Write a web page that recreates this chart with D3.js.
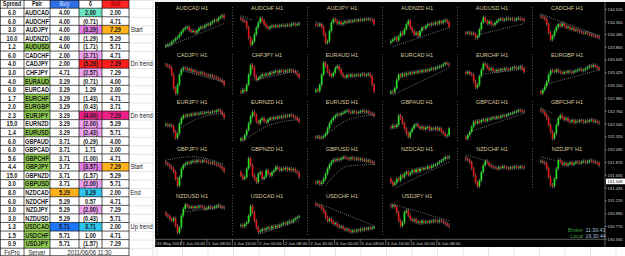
<!DOCTYPE html>
<html>
<head>
<meta charset="utf-8">
<script src="https://cdn.jsdelivr.net/npm/d3@7"></script>
<style>
  body { margin: 0; background: #fff; }
  svg { display: block; font-family: "Liberation Sans", Arial, sans-serif; }
</style>
</head>
<body>
<svg id="chart" width="625" height="256"></svg>
<script>
// ---- table data ----
const pairs = ["AUDCAD","AUDCHF","AUDJPY","AUDNZD","AUDUSD","CADCHF","CADJPY","CHFJPY","EURAUD","EURCAD",
  "EURCHF","EURGBP","EURJPY","EURNZD","EURUSD","GBPAUD","GBPCAD","GBPCHF","GBPJPY","GBPNZD",
  "GBPUSD","NZDCAD","NZDCHF","NZDJPY","NZDUSD","USDCAD","USDCHF","USDJPY"];
const spreads = [6.0,6.0,3.0,10.0,1.2,6.0,4.0,3.0,4.0,6.0,1.7,2.0,2.3,15.0,1.4,6.0,6.0,5.6,4.4,15.0,3.0,8.0,6.0,3.0,3.0,1.3,1.5,0.9];
const buys = [4.00,4.00,4.00,4.00,4.00,2.00,2.00,4.71,3.29,3.29,3.29,3.29,3.29,3.29,3.29,3.71,3.71,3.71,3.71,3.71,3.71,5.29,5.29,5.29,5.29,5.71,5.71,5.71];
const deltas = [2.00,-0.71,-3.29,-1.29,-1.71,-2.71,-5.29,-2.57,-0.71,1.29,-1.43,-0.43,-4.00,-2.00,-2.43,-0.29,1.71,-1.00,-3.57,-1.57,-2.00,3.29,0.57,-2.00,-0.43,3.71,1.00,-1.57];
const sells = [2.00,4.71,7.29,5.29,5.71,4.71,7.29,7.29,4.00,2.00,4.71,3.71,7.29,5.29,5.71,4.00,2.00,4.71,7.29,5.29,5.71,2.00,4.71,7.29,5.71,2.00,4.71,7.29];
const notes = { AUDJPY: "Start", CADJPY: "Dn trend", EURJPY: "Dn trend", GBPJPY: "Start", NZDCAD: "End", USDCAD: "Up trend" };
const headers = ["Spread", "Pair", "Buy", "δ", "Sell"];
const footer = ["FxPro", "Server", "2011/06/06 11:30"];

// ---- mini chart data (closes, 0..100 of each panel) ----
const candleCloses = [
  [5,8,10,12,18,22,28,32,40,48,55,60,62,52,48,50,45,50,58,62,60,66,70,68,74,78,82,80,88,92,96,88],
  [88,85,80,78,60,30,10,20,40,60,75,88,80,70,62,58,62,65,63,66,64,66,67,65,67,68,66,70,72,68,70,72],
  [70,68,66,70,62,40,15,20,50,75,85,80,72,76,70,74,78,76,80,78,80,82,80,84,82,83,85,84,86,84,82,70],
  [15,20,25,30,22,35,45,40,55,70,80,60,50,40,45,35,50,60,58,65,70,68,72,70,75,72,78,74,80,82,76,62],
  [45,44,46,42,44,40,30,35,55,75,90,80,72,78,70,68,74,80,84,86,82,84,88,85,86,84,82,86,88,85,84,80],
  [95,92,90,85,70,45,25,35,50,62,70,65,72,66,60,62,56,58,52,54,50,48,46,44,45,42,40,38,36,34,33,30],
  [90,88,85,80,60,20,5,30,60,75,80,78,74,76,70,72,68,66,64,66,62,60,58,56,58,54,52,50,46,44,40,30],
  [10,8,15,12,30,60,88,80,55,45,50,55,60,58,62,60,66,64,68,70,66,72,70,68,72,70,74,72,70,66,60,52],
  [10,15,12,30,60,95,85,70,60,55,65,80,85,75,62,55,52,58,55,60,56,58,60,57,60,62,58,60,62,55,30,10],
  [5,10,8,20,45,60,55,62,58,64,62,66,64,68,66,70,68,72,70,74,72,76,78,76,80,82,84,86,90,94,92,88],
  [66,64,68,62,60,40,22,30,55,75,92,88,80,74,78,72,70,74,72,76,74,78,76,75,78,80,82,78,80,84,78,68],
  [10,5,15,25,40,60,72,70,68,74,70,66,64,68,66,70,68,66,70,72,74,76,72,74,78,82,86,84,88,84,80,76],
  [50,52,48,50,46,30,12,25,55,70,78,76,80,78,82,80,84,82,84,86,84,86,88,86,88,90,88,92,94,90,82,72],
  [5,10,8,20,35,55,75,88,80,60,55,65,70,62,58,66,70,68,72,70,74,72,76,74,78,76,80,78,74,72,66,60],
  [15,14,16,12,14,18,25,40,55,65,72,78,82,80,84,86,90,92,88,86,90,88,86,88,90,92,88,90,86,84,82,78],
  [45,42,48,44,50,78,70,55,40,25,15,30,40,50,52,46,40,44,38,42,44,36,40,38,42,36,40,30,25,18,20,40],
  [15,10,20,30,45,60,55,62,58,64,66,62,68,66,70,72,70,74,72,76,78,76,80,82,84,86,88,90,94,92,90,88],
  [95,92,88,80,70,50,30,10,25,50,70,78,72,66,70,62,60,64,58,62,60,64,62,58,62,60,64,66,60,62,58,56],
  [80,75,72,65,60,50,30,10,35,60,70,74,78,76,80,82,80,84,82,80,84,82,80,78,76,78,74,72,70,66,60,52],
  [50,40,30,35,60,90,70,40,30,20,45,50,30,35,55,45,40,50,55,65,60,55,60,58,62,56,60,55,58,52,48,35],
  [20,18,22,15,20,30,45,60,72,80,86,84,88,86,90,94,92,90,88,92,90,88,90,86,88,84,86,82,84,80,78,75],
  [30,20,12,18,30,25,40,35,45,50,42,48,55,50,58,52,60,58,62,60,66,62,68,70,72,76,80,84,88,94,92,95],
  [92,88,85,78,60,40,20,8,25,50,70,82,78,70,66,64,62,60,64,62,66,64,62,60,64,62,66,64,62,66,64,62],
  [80,82,78,75,60,35,12,8,30,60,85,80,72,76,70,74,78,72,76,80,78,76,80,82,78,80,84,82,80,78,76,70],
  [68,62,58,50,45,52,30,10,25,60,80,92,88,84,86,82,86,84,88,86,84,80,82,86,84,82,86,88,90,86,84,82],
  [30,32,28,35,40,60,88,70,45,25,12,15,20,18,22,25,22,28,26,30,28,32,35,38,36,40,44,42,48,52,55,58],
  [95,92,90,88,80,70,55,45,50,42,35,38,30,26,28,22,18,20,15,12,16,14,18,16,20,18,22,20,24,22,25,26],
  [88,86,90,85,70,45,30,40,70,75,60,50,45,48,40,42,38,44,40,42,40,44,42,46,44,42,46,44,40,36,32,28]
];
// dotted trend / average lines: [candle index, level]
const trendPoints = [
  [[1,2],[31,72]], [[0,95],[7,82]], [[0,78],[5,66]], [[2,4],[31,60]], [[8,40],[31,72]], [[0,100],[31,36]],
  [[9,72],[31,38]], [[8,44],[31,72]], [], [[2,0],[31,80]], [[10,62],[31,76]], [[3,30],[31,74]],
  [[7,35],[18,70],[31,84]], [[2,2],[16,50],[31,66]], [[6,20],[18,66],[31,80]], [], [[4,32],[31,84]], [[0,100],[7,84]],
  [[0,85],[15,95],[31,72]], [], [[6,10],[18,68],[31,72]], [[4,5],[31,80]], [[0,100],[12,82]], [[0,95],[8,84]],
  [[10,70],[31,86]], [[10,5],[31,45]], [[4,92],[31,30]], [[0,95],[31,45]]
];

const timeLabels = ["31 May 2011","1 Jun 00:00","1 Jun 08:00","1 Jun 16:00","2 Jun 00:00","2 Jun 08:00",
  "2 Jun 16:00","3 Jun 00:00","3 Jun 08:00","3 Jun 16:00","6 Jun 00:00","6 Jun 08:00"];
const priceTicks = [134.520,134.300,134.085,133.865,133.645,133.425,133.200,132.980,132.760,132.540,
  132.320,132.095,131.875,131.655,131.435,131.215,130.990,130.770,130.550];
const currentPrice = 131.549;
const clockLabels = [["Broker", "11:30:43"], ["Local", "16:30:44"]];

// ---- styles ----
const greenPairs = ["AUDUSD","EURAUD","EURCHF","EURGBP","EURJPY","EURUSD","GBPCHF","GBPJPY","GBPUSD","USDCAD","USDCHF","USDJPY"];
const C = { aqua: "#6ae6c6", violet: "#f0a2f2", violetStrong: "#e27ee6", red: "#ff1c1c", pink: "#ee1f86",
  orange: "#ffb21c", cyan: "#2ec6ee", blue: "#1c78ff", green: "#92d050" };
const cellColors = {
  "AUDCAD:3": C.aqua, "AUDJPY:3": C.violetStrong, "AUDJPY:4": C.orange, "CADCHF:3": C.violet,
  "CADJPY:3": C.red, "CADJPY:4": C.red, "CHFJPY:3": C.violet, "EURJPY:3": C.pink, "EURJPY:4": C.pink,
  "EURNZD:3": C.violet, "EURUSD:3": C.violet, "GBPJPY:3": C.violetStrong, "GBPJPY:4": C.orange,
  "GBPUSD:3": C.violet, "NZDCAD:2": C.orange, "NZDCAD:3": C.cyan, "NZDJPY:3": C.violet,
  "USDCAD:2": C.blue, "USDCAD:3": C.cyan
};

const svg = d3.select("#chart");

// ================= TABLE =================
const colX = [0, 24, 50, 79, 102, 129, 153];
const rowY = d3.scaleBand().domain(pairs).range([8.2, 248.2]);
const rh = rowY.bandwidth();
const table = svg.append("g");

const fmtDelta = v => v < 0 ? `(${Math.abs(v).toFixed(2)})` : v.toFixed(2);

function cellText(x, y, str, opt = {}) {
  table.append("text")
    .attr("transform", `translate(${x},${y}) scale(${opt.sx || 0.8},1)`)
    .attr("text-anchor", opt.anchor || "middle")
    .attr("font-size", opt.size || 7)
    .attr("font-weight", opt.weight || "bold")
    .attr("fill", opt.fill || "#1a1a1a")
    .text(str);
}

// header backgrounds
table.append("rect").attr("x", colX[2]).attr("y", 0).attr("width", colX[3] - colX[2]).attr("height", 8.2).attr("fill", "#2f6fe4");
table.append("rect").attr("x", colX[4]).attr("y", 0).attr("width", colX[5] - colX[4]).attr("height", 8.2).attr("fill", "#ff2424");

// row backgrounds
pairs.forEach(p => {
  const y = rowY(p);
  if (greenPairs.includes(p)) {
    table.append("rect").attr("x", colX[1]).attr("y", y).attr("width", colX[2] - colX[1]).attr("height", rh).attr("fill", C.green);
  }
  [2, 3, 4].forEach(c => {
    const f = cellColors[`${p}:${c}`];
    if (f) table.append("rect").attr("x", colX[c]).attr("y", y).attr("width", colX[c + 1] - colX[c]).attr("height", rh).attr("fill", f);
  });
});

// light excel grid on notes column
[0, 8.2, ...pairs.map(p => rowY(p) + rh)].forEach(y => {
  table.append("line").attr("x1", colX[5]).attr("x2", colX[6]).attr("y1", y + 0.5).attr("y2", y + 0.5).attr("stroke", "#d4d4d4").attr("stroke-width", 0.6);
});
table.append("line").attr("x1", colX[6]).attr("x2", colX[6]).attr("y1", 0).attr("y2", 256).attr("stroke", "#d4d4d4").attr("stroke-width", 0.6);

// black borders
const hLines = [0.3, 8.2, ...pairs.map(p => rowY(p) + rh), 255.7];
hLines.forEach(y => {
  table.append("line").attr("x1", 0).attr("x2", colX[5]).attr("y1", y).attr("y2", y).attr("stroke", "#111").attr("stroke-width", 0.7);
});
colX.slice(0, 6).forEach((x, c) => {
  const xx = c === 0 ? 0.4 : x;
  table.append("line").attr("x1", xx).attr("x2", xx).attr("y1", 0).attr("y2", c >= 3 && c <= 4 ? 248.2 : 256).attr("stroke", "#111").attr("stroke-width", 0.7);
});

// header text
headers.forEach((h, c) => {
  const cx = (colX[c] + colX[c + 1]) / 2;
  const fill = c === 2 ? "#a8c4ff" : (c === 4 ? "#a00000" : "#1a1a1a");
  cellText(cx, 6.3, h, { fill, size: 6.8 });
});

// row text
pairs.forEach((p, i) => {
  const y = rowY(p) + rh / 2 + 2.5;
  const vals = [spreads[i].toFixed(1), p, buys[i].toFixed(2), fmtDelta(deltas[i]), sells[i].toFixed(2)];
  vals.forEach((v, c) => {
    const cx = (colX[c] + colX[c + 1]) / 2;
    cellText(cx, y, v);
  });
  if (notes[p]) cellText(colX[5] + 1.5, y, notes[p], { anchor: "start", weight: "normal", size: 6.8, sx: 0.85 });
});

// footer
const fy = 248.2 + 7.8 / 2 + 2.5;
cellText((colX[0] + colX[1]) / 2, fy, footer[0], { weight: "normal", size: 6.8, sx: 0.85 });
cellText((colX[1] + colX[2]) / 2, fy, footer[1], { weight: "normal", size: 6.8, sx: 0.85 });
cellText((colX[2] + colX[5]) / 2, fy, footer[2], { weight: "normal", size: 6.8, sx: 0.85 });

// ================= CHART PANEL =================
const panel = { x0: 155, x1: 625, y0: 2, y1: 247, plotR: 605 };
const chartG = svg.append("g");
chartG.append("rect").attr("x", panel.x0).attr("y", panel.y0).attr("width", panel.x1 - panel.x0).attr("height", panel.y1 - panel.y0).attr("fill", "#000");

const gx = d3.scaleBand().domain(d3.range(6)).range([panel.x0, panel.plotR]);
const gy = d3.scaleBand().domain(d3.range(5)).range([2, 237]);

pairs.forEach((pair, k) => {
  const x0 = gx(k % 6), y0 = gy(Math.floor(k / 6));
  const closes = candleCloses[k];
  const n = closes.length;
  const x = d3.scaleBand().domain(d3.range(1, n)).range([x0 + 10, x0 + 70]).paddingInner(0.12);
  const y = d3.scaleLinear().domain([0, 100]).range([y0 + 46, y0 + 12]);
  const g = chartG.append("g");

  // dotted left scale line
  g.append("line").attr("x1", x0 + 2.5).attr("x2", x0 + 2.5).attr("y1", y0 + 5).attr("y2", y0 + 46)
    .attr("stroke", "#8a8a8a").attr("stroke-width", 0.8).attr("stroke-dasharray", "0.8,2");

  g.append("text").attr("x", x0 + 37).attr("y", y0 + 8).attr("text-anchor", "middle")
    .attr("font-size", 5.6).attr("fill", "#d8c79e").text(`${pair} H1`);

  const candles = d3.range(1, n).map(i => ({ i, o: closes[i - 1], c: closes[i] }));

  g.selectAll(".wick").data(candles).enter().append("line")
    .attr("x1", d => x(d.i) + x.bandwidth() / 2).attr("x2", d => x(d.i) + x.bandwidth() / 2)
    .attr("y1", d => y(Math.max(d.o, d.c)) - 1.8).attr("y2", d => y(Math.min(d.o, d.c)) + 1.8)
    .attr("stroke", "#a0a0a0").attr("stroke-width", 0.6);

  g.selectAll(".body").data(candles).enter().append("rect")
    .attr("x", d => x(d.i)).attr("width", x.bandwidth())
    .attr("y", d => y(Math.max(d.o, d.c)))
    .attr("height", d => Math.max(0.9, Math.abs(y(d.o) - y(d.c))))
    .attr("fill", d => d.c >= d.o ? "#22e022" : "#e01414");

  const tp = trendPoints[k];
  if (tp.length) {
    const line = d3.line().x(d => x(Math.max(1, d[0])) + x.bandwidth() / 2).y(d => y(d[1])).curve(d3.curveMonotoneX);
    g.append("path").datum(tp).attr("d", line).attr("fill", "none")
      .attr("stroke", "#c8c8c8").attr("stroke-width", 0.7).attr("stroke-dasharray", "0.8,1.4");
  }
});

// time axis
const tAxisY = 239.3;
chartG.append("line").attr("x1", panel.x0).attr("x2", panel.plotR).attr("y1", tAxisY).attr("y2", tAxisY).attr("stroke", "#9a9a9a").attr("stroke-width", 0.6);
const tx = d3.scalePoint().domain(timeLabels).range([155.8, 436.8]);
timeLabels.forEach(t => {
  chartG.append("line").attr("x1", tx(t)).attr("x2", tx(t)).attr("y1", tAxisY).attr("y2", tAxisY + 6).attr("stroke", "#bbb").attr("stroke-width", 0.5);
  chartG.append("text").attr("x", tx(t) + 1.2).attr("y", tAxisY + 5.3).attr("font-size", 4.3).attr("fill", "#d0d0d0").text(t);
});

// price axis
const py = d3.scaleLinear().domain([130.55, 134.52]).range([239.3, 9.3]);
chartG.append("line").attr("x1", panel.plotR).attr("x2", panel.plotR).attr("y1", panel.y0).attr("y2", panel.y1).attr("stroke", "#9a9a9a").attr("stroke-width", 0.6);
priceTicks.forEach(v => {
  chartG.append("line").attr("x1", panel.plotR).attr("x2", panel.plotR + 2).attr("y1", py(v)).attr("y2", py(v)).attr("stroke", "#bbb").attr("stroke-width", 0.5);
  chartG.append("text").attr("x", panel.plotR + 2.5).attr("y", py(v) + 1.5).attr("font-size", 4.2).attr("fill", "#d0d0d0").text(v.toFixed(3));
});
chartG.append("rect").attr("x", panel.plotR + 1).attr("y", py(currentPrice) - 2.8).attr("width", 19).attr("height", 5.6).attr("fill", "#fff");
chartG.append("text").attr("x", panel.plotR + 2.5).attr("y", py(currentPrice) + 1.5).attr("font-size", 4.2).attr("fill", "#000").text(currentPrice.toFixed(3));

// broker / local clocks
clockLabels.forEach((d, i) => {
  const yy = 231.5 + i * 6.6;
  chartG.append("text").attr("x", 583).attr("y", yy).attr("text-anchor", "end").attr("font-size", 5.2).attr("fill", "#3f9d3f").text(d[0]);
  chartG.append("text").attr("x", 585.5).attr("y", yy).attr("font-size", 5.2).attr("fill", "#a9bfd8").text(d[1]);
});

// excel grid below panel
d3.range(157, 625, 25.5).forEach(x => {
  svg.append("line").attr("x1", x).attr("x2", x).attr("y1", panel.y1).attr("y2", 256).attr("stroke", "#d4d4d4").attr("stroke-width", 0.6);
});
svg.append("line").attr("x1", panel.x0).attr("x2", 625).attr("y1", 1).attr("y2", 1).attr("stroke", "#d4d4d4").attr("stroke-width", 0.6);
</script>
</body>
</html>
